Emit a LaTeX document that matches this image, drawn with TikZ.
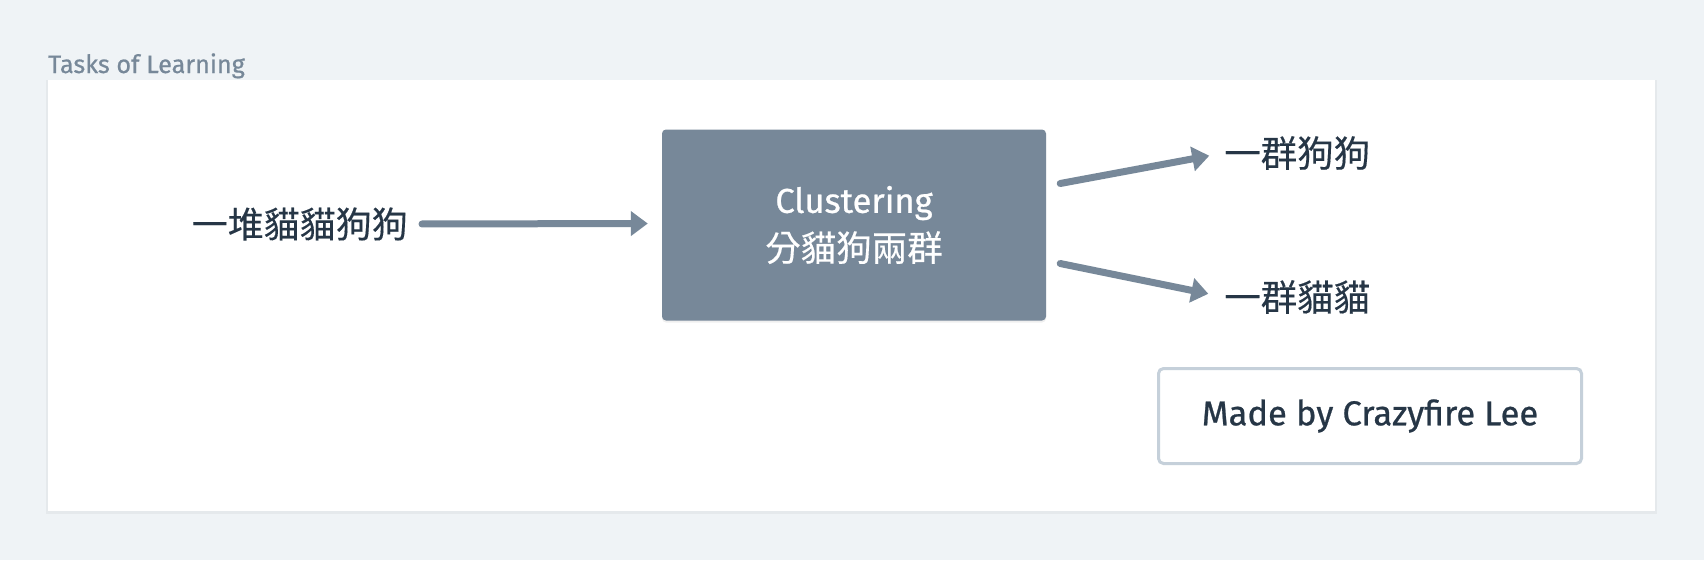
\documentclass[tikz,border=0pt]{standalone}
\usepackage{fontspec}
\setmainfont{Fira Sans}[FakeBold=0.7]
\newfontfamily\cjk{Noto Sans CJK TC}[FakeBold=0.3]
\usetikzlibrary{arrows.meta,shadows}
\definecolor{bgc}{HTML}{EFF3F6}
\definecolor{slate}{HTML}{778899}
\definecolor{ink}{HTML}{263646}
\definecolor{lineb}{HTML}{C5D0DA}
\tikzset{
  conn/.style={draw=slate, line width=7pt, line cap=round, -{Triangle[length=17pt,width=24pt]}},
  lbl/.style={inner sep=0pt, text=ink, font=\cjk\fontsize{36.5}{40}\selectfont},
  procbox/.style={fill=slate, rounded corners=4pt, minimum width=384pt, minimum height=191pt, inner sep=0pt, text=white, align=center, drop shadow={opacity=0.12, shadow xshift=0pt, shadow yshift=-2pt}},
  signbox/.style={draw=lineb, line width=3pt, fill=white, rounded corners=5pt, minimum width=423pt, minimum height=95pt, text=ink, font=\fontsize{34.5}{40}\selectfont}
}
\begin{document}
\begin{tikzpicture}[x=1pt,y=-1pt]
\useasboundingbox (0,0) rectangle (1704,560);
\fill[bgc] (0,0) rectangle (1704,560);
\fill[black, opacity=0.04] (46,80) rectangle (1657,514);
\fill[white] (48,80) rectangle (1655,511);
\node[anchor=base west, inner sep=0pt, text=slate, font=\fontsize{25.2}{30}\selectfont] (title) at (48,73) {Tasks of Learning};
\node[procbox] (box) at (854,225) {\fontsize{34.5}{45}\selectfont Clustering\\[10pt]{\cjk\fontsize{35.5}{45}\selectfont 分貓狗兩群}};
\node[lbl, anchor=east, font=\cjk\fontsize{36}{40}\selectfont] (src) at (408,224) {一堆貓貓狗狗};
\node[lbl, anchor=west] (dogs) at (1224,153) {一群狗狗};
\node[lbl, anchor=west] (cats) at (1224,297) {一群貓貓};
\node[signbox] (sign) at (1370,416) {Made by Crazyfire Lee};
\draw[conn, shorten <=14pt, shorten >=14pt] (src.east) -- ([yshift=1.5pt]box.west);
\draw[conn, shorten >=15pt] ([xshift=14pt,yshift=41.5pt]box.east) -- (dogs.west);
\draw[conn, shorten >=16pt] ([xshift=14pt,yshift=-38.5pt]box.east) -- (cats.west);
\end{tikzpicture}
\end{document}
